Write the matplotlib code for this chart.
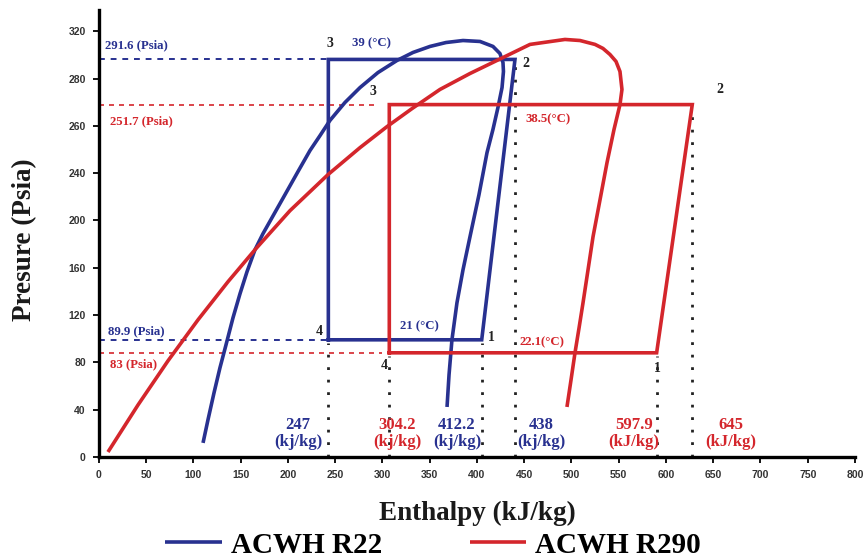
#p-h diagram of ACWH cycles, R22 vs R290
import matplotlib
matplotlib.use('Agg')
import matplotlib.pyplot as plt
import numpy as np

blue = '#283190'
red = '#d4262c'
serif = 'Liberation Serif'

#saturation domes, enthalpy (kJ/kg) and pressure (psia)
r22_dome_h = [110.1, 115.3, 121.7, 128.0, 134.4, 141.8, 149.2, 156.6, 165.1, 173.5, 183.1, 196.8,
              210.6, 223.3, 233.9, 244.4, 260.3, 276.2, 295.2, 315.3, 332.3, 350.3, 367.2, 385.2,
              403.2, 416.9, 424.3, 427.5, 428.0, 426.5, 422.2, 416.9, 410.6, 402.1, 392.6, 385.2,
              378.8, 373.5, 370.4, 368.3]
r22_dome_p = [11.9, 31.3, 54.2, 75.4, 94.8, 117.7, 138.0, 156.6, 175.3, 188.8, 202.4, 221.8,
              240.7, 249.6, 255.9, 262.3, 269.9, 276.2, 285.1, 295.3, 302.1, 307.2, 310.5, 312.2,
              311.4, 307.2, 301.2, 293.6, 286.0, 276.2, 267.8, 258.5, 248.7, 221.8, 186.3, 158.3,
              130.4, 99.1, 69.4, 42.3]
r290_dome_h = [9.5, 41.3, 73.0, 104.8, 136.5, 165.1, 202.1, 242.3, 276.2, 304.8, 331.2, 360.8,
               392.6, 427.5, 456.1, 493.1, 509.0, 524.9, 533.3, 540.7, 547.1, 551.3, 553.4, 551.3,
               545.0, 537.6, 530.2, 522.8, 517.5, 512.2, 508.0, 503.7, 499.5, 495.2]
r290_dome_p = [4.2, 44.0, 81.3, 116.0, 148.2, 175.3, 208.3, 238.8, 250.8, 259.7, 267.3, 275.4,
               284.3, 297.8, 308.9, 313.1, 312.2, 308.9, 305.5, 300.4, 294.5, 286.0, 275.4, 269.0,
               258.5, 244.5, 217.6, 186.3, 158.3, 130.4, 109.2, 88.1, 65.2, 42.3]

#cycle state points 4 -> 1 -> 2 -> 3 -> 4
r22_cycle_h = [242.7, 405.0, 440.2, 242.7, 242.7]
r22_cycle_p = [99.1, 99.1, 296.2, 296.2, 99.1]
r290_cycle_h = [307.2, 590.1, 627.8, 307.2, 307.2]
r290_cycle_p = [88.1, 88.1, 269.0, 269.0, 88.1]

#annotation texts
r22_h_labels = ['247', '412.2', '438']
r290_h_labels = ['304.2', '597.9', '645']
r22_p_labels = ['291.6 (Psia)', '89.9 (Psia)']
r290_p_labels = ['251.7 (Psia)', '83 (Psia)']
r22_t_labels = ['39 (\u00b0C)', '21 (\u00b0C)']
r290_t_labels = ['38.5(\u00b0C)', '22.1(\u00b0C)']

x_ticks = list(range(0, 801, 50))
y_ticks = [0, 40, 80, 120, 160, 200, 240, 260, 280, 320]

#the pressure axis is not linear: evenly spaced ticks with uneven labels
lab_pts = [-400, 0, 240, 260, 280, 320, 800]
pos_pts = [-400, 0, 240, 280, 320, 360, 840]

def fwd(v):
	return np.interp(v, lab_pts, pos_pts)

def inv(p):
	return np.interp(p, pos_pts, lab_pts)


fig = plt.figure(figsize=(8.66, 5.59), dpi=100)
ax = fig.add_axes([0.1143, 0.1825, 0.8730, 0.7996])
ax.set_yscale('function', functions=(fwd, inv))
ax.set_xlim(0, 800)
ax.set_ylim(0, 338)

#dashed pressure guides and dotted enthalpy drops
ax.plot([0, r22_cycle_h[3]], [r22_cycle_p[3]] * 2, color=blue, lw=1.4, ls=(0, (3, 3)))
ax.plot([0, r22_cycle_h[0]], [r22_cycle_p[0]] * 2, color=blue, lw=1.4, ls=(0, (3, 3)))
ax.plot([0, 294], [r290_cycle_p[3]] * 2, color=red, lw=1.2, ls=(0, (3, 3)))
ax.plot([0, 300], [r290_cycle_p[0]] * 2, color=red, lw=1.2, ls=(0, (3, 3)))
for h, p in [(r22_cycle_h[0], r22_cycle_p[0]), (r22_cycle_h[1], r22_cycle_p[1]), (r22_cycle_h[2], r22_cycle_p[2]),
			 (r290_cycle_h[0], r290_cycle_p[0]), (r290_cycle_h[1], r290_cycle_p[1]), (r290_cycle_h[2], r290_cycle_p[2])]:
	ax.plot([h, h], [0, p - 3], color='#222222', lw=2.0, ls=(0, (1, 3.5)))

l22, = ax.plot(r22_dome_h, r22_dome_p, color=blue, lw=2.6, solid_capstyle='butt', solid_joinstyle='round')
ax.plot(r22_cycle_h, r22_cycle_p, color=blue, lw=2.6, solid_joinstyle='miter')
l290, = ax.plot(r290_dome_h, r290_dome_p, color=red, lw=2.6, solid_capstyle='butt', solid_joinstyle='round')
ax.plot(r290_cycle_h, r290_cycle_p, color=red, lw=2.6, solid_joinstyle='miter')

#state point numbers
num_kw = dict(fontsize=10, fontweight='bold', family=serif, ha='center', va='center', color='#222222')
ax.text(244.4, 309.7, '3', **num_kw)
ax.text(451.9, 292.8, '2', **num_kw)
ax.text(232.8, 105.8, '4', **num_kw)
ax.text(414.8, 100.8, '1', **num_kw)
ax.text(290.0, 274.5, '3', **num_kw)
ax.text(657.1, 275.4, '2', **num_kw)
ax.text(301.6, 77.0, '4', **num_kw)
ax.text(590.5, 74.5, '1', **num_kw)

small_kw = dict(fontsize=9.2, fontweight='bold', family=serif, va='center')
ax.text(6.3, 308.0, r22_p_labels[0], color=blue, **small_kw)
ax.text(9.5, 106.7, r22_p_labels[1], color=blue, **small_kw)
ax.text(11.6, 261.8, r290_p_labels[0], color=red, **small_kw)
ax.text(11.6, 78.7, r290_p_labels[1], color=red, **small_kw)
ax.text(267.7, 309.7, r22_t_labels[0], color=blue, **small_kw)
ax.text(318.5, 110.9, r22_t_labels[1], color=blue, **small_kw)
ax.text(450.8, 262.7, r290_t_labels[0], color=red, **small_kw)
ax.text(445.5, 97.4, r290_t_labels[1], color=red, **small_kw)

#enthalpy values along the bottom
big_kw = dict(fontsize=12, fontweight='bold', family=serif, ha='center', va='center', linespacing=1.05)
for x, s in zip([210.6, 378.8, 467.7], r22_h_labels):
	ax.text(x, 20, s + '\n(kj/kg)', color=blue, **big_kw)
for x, s, u in zip([315.3, 566.0, 669.0], r290_h_labels, ['(kj/kg)', '(kJ/kg)', '(kJ/kg)']):
	ax.text(x, 20, s + '\n' + u, color=red, **big_kw)

#axes styling
for side in ['top', 'right']:
	ax.spines[side].set_visible(False)
for side in ['left', 'bottom']:
	ax.spines[side].set_linewidth(2.4)
ax.set_xticks(x_ticks)
ax.set_yticks(y_ticks)
ax.tick_params(length=4.5, width=1.3, direction='out', pad=5)
for t in ax.get_xticklabels() + ax.get_yticklabels():
	t.set_family('Liberation Sans')
	t.set_fontweight('bold')
	t.set_fontsize(7.5)
	t.set_color('#333333')

fig.text(0.029, 0.571, 'Presure (Psia)', rotation=90, ha='center', va='center',
		 fontsize=19.5, fontweight='bold', family=serif, color='#1a1a1a')
fig.text(0.551, 0.082, 'Enthalpy (kJ/kg)', ha='center', va='center',
		 fontsize=19.5, fontweight='bold', family=serif, color='#1a1a1a')

fig.legend([l22, l290], ['ACWH R22', 'ACWH R290'], loc='center', bbox_to_anchor=(0.5, 0.025),
		   ncol=2, frameon=False, handlelength=1.95, handletextpad=0.3, columnspacing=3.0,
		   prop=dict(family=serif, weight='bold', size=21), borderpad=0)

plt.savefig('out.png', dpi=100)
